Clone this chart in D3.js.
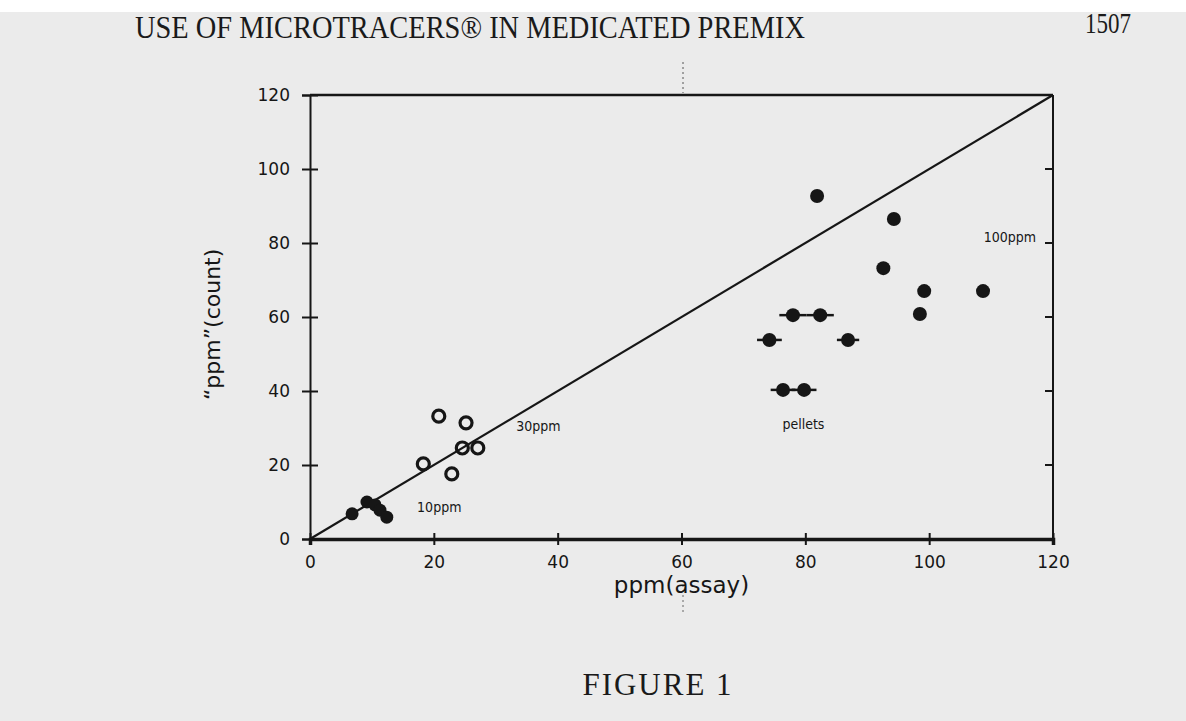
<!DOCTYPE html>
<html>
<head>
<meta charset="utf-8">
<script src="https://cdn.jsdelivr.net/npm/d3@7"></script>
<style>
  body { margin: 0; background: #ebebeb; }
  svg { display: block; }
</style>
</head>
<body>
<div id="chart"></div>
<script>
var svgWidth = 1186;
var svgHeight = 721;

// data
var xTicks = [0, 20, 40, 60, 80, 100, 120];
var yTicks = [0, 20, 40, 60, 80, 100, 120];

// 10ppm, filled dots near the origin
var ppm10X = [6.8, 9.2, 10.5, 11.3, 12.4];
var ppm10Y = [6.8, 10.0, 9.2, 7.8, 5.9];

// 30ppm, open circles
var ppm30X = [18.3, 20.8, 22.9, 24.6, 25.2, 27.1];
var ppm30Y = [20.3, 33.2, 17.6, 24.6, 31.4, 24.6];

// 100ppm pellets, filled dots, some with horizontal error bars
var ppm100X = [81.9, 94.3, 92.6, 99.2, 108.7, 98.5, 78.0, 82.4, 74.2, 86.9, 76.4, 79.8];
var ppm100Y = [92.7, 86.5, 73.2, 67.0, 67.0, 60.8, 60.5, 60.5, 53.8, 53.8, 40.3, 40.3];
var ppm100Err = [0, 0, 0, 0, 0, 0, 2.2, 2.2, 2.0, 1.8, 2.0, 2.0];

var labels = ["10ppm", "30ppm", "pellets", "100ppm"];

var margin = { top: 95, right: 133, bottom: 182, left: 310 };
var width = svgWidth - margin.left - margin.right;
var height = svgHeight - margin.top - margin.bottom;

var svg = d3.select("#chart")
  .append("svg")
  .attr("width", svgWidth)
  .attr("height", svgHeight);

svg.append("rect")
  .attr("width", svgWidth)
  .attr("height", svgHeight)
  .attr("fill", "#ebebeb");

// white strip at the very top of the scan
svg.append("rect")
  .attr("width", svgWidth)
  .attr("height", 12)
  .attr("fill", "#ffffff");

// page header
svg.append("text")
  .attr("x", 135)
  .attr("y", 38)
  .attr("font-family", "Liberation Serif, serif")
  .attr("font-size", "31px")
  .attr("fill", "#1a1a1a")
  .attr("textLength", 670)
  .attr("lengthAdjust", "spacingAndGlyphs")
  .text("USE OF MICROTRACERS\u00AE IN MEDICATED PREMIX");

svg.append("text")
  .attr("x", 1085)
  .attr("y", 33)
  .attr("font-family", "Liberation Serif, serif")
  .attr("font-size", "29px")
  .attr("fill", "#1a1a1a")
  .attr("textLength", 46)
  .attr("lengthAdjust", "spacingAndGlyphs")
  .text("1507");

// fold marks
svg.append("line")
  .attr("x1", 683).attr("x2", 683)
  .attr("y1", 62).attr("y2", 93)
  .attr("stroke", "#555")
  .attr("stroke-width", 1)
  .attr("stroke-dasharray", "2,3");

svg.append("line")
  .attr("x1", 683).attr("x2", 683)
  .attr("y1", 585).attr("y2", 612)
  .attr("stroke", "#666")
  .attr("stroke-width", 1)
  .attr("stroke-dasharray", "2,3");

var chartGroup = svg.append("g")
  .attr("transform", `translate(${margin.left}, ${margin.top})`);

var xLinearScale = d3.scaleLinear()
  .domain([0, 120])
  .range([0, width]);

var yLinearScale = d3.scaleLinear()
  .domain([0, 120])
  .range([height, 0]);

var ink = "#161616";

// frame: top and right
chartGroup.append("line")
  .attr("x1", 0).attr("x2", width)
  .attr("y1", 0).attr("y2", 0)
  .attr("stroke", ink).attr("stroke-width", 2.5);

chartGroup.append("line")
  .attr("x1", width).attr("x2", width)
  .attr("y1", 0).attr("y2", height)
  .attr("stroke", ink).attr("stroke-width", 2);

// right side inward ticks
chartGroup.selectAll(".rtick")
  .data(yTicks.slice(1, -1))
  .enter()
  .append("line")
  .attr("x1", width - 8).attr("x2", width)
  .attr("y1", d => yLinearScale(d)).attr("y2", d => yLinearScale(d))
  .attr("stroke", ink).attr("stroke-width", 2);

// bottom axis, ticks across the line
var bottomAxis = d3.axisBottom(xLinearScale)
  .tickValues(xTicks)
  .tickSize(6)
  .tickPadding(11);

var xAxis = chartGroup.append("g")
  .attr("transform", `translate(0, ${height})`)
  .call(bottomAxis);

xAxis.select(".domain").attr("stroke", ink).attr("stroke-width", 3.5);
xAxis.selectAll(".tick line")
  .attr("y1", -6)
  .attr("stroke", ink).attr("stroke-width", 2);
xAxis.selectAll(".tick text")
  .attr("font-family", "DejaVu Sans, sans-serif")
  .attr("font-size", "17px")
  .attr("fill", ink);

// left axis, ticks across the line
var leftAxis = d3.axisLeft(yLinearScale)
  .tickValues(yTicks)
  .tickSize(8)
  .tickPadding(12);

var yAxis = chartGroup.append("g")
  .call(leftAxis);

yAxis.select(".domain").attr("stroke", ink).attr("stroke-width", 2);
yAxis.selectAll(".tick line")
  .attr("x2", 8)
  .attr("x1", -8)
  .attr("stroke", ink).attr("stroke-width", 2);
yAxis.selectAll(".tick text")
  .attr("font-family", "DejaVu Sans, sans-serif")
  .attr("font-size", "17px")
  .attr("fill", ink);

// identity line
chartGroup.append("line")
  .attr("x1", xLinearScale(0)).attr("y1", yLinearScale(0))
  .attr("x2", xLinearScale(120)).attr("y2", yLinearScale(120))
  .attr("stroke", ink).attr("stroke-width", 2.2);

// 10ppm points
var data10 = ppm10X.map((x, i) => ({ x: x, y: ppm10Y[i] }));
chartGroup.selectAll(".p10")
  .data(data10)
  .enter()
  .append("circle")
  .attr("cx", d => xLinearScale(d.x))
  .attr("cy", d => yLinearScale(d.y))
  .attr("r", 6.5)
  .attr("fill", ink);

// 30ppm points
var data30 = ppm30X.map((x, i) => ({ x: x, y: ppm30Y[i] }));
chartGroup.selectAll(".p30")
  .data(data30)
  .enter()
  .append("circle")
  .attr("cx", d => xLinearScale(d.x))
  .attr("cy", d => yLinearScale(d.y))
  .attr("r", 6)
  .attr("fill", "none")
  .attr("stroke", ink)
  .attr("stroke-width", 3.2);

// 100ppm pellets
var data100 = ppm100X.map((x, i) => ({ x: x, y: ppm100Y[i], e: ppm100Err[i] }));
chartGroup.selectAll(".err")
  .data(data100.filter(d => d.e > 0))
  .enter()
  .append("line")
  .attr("x1", d => xLinearScale(d.x - d.e))
  .attr("x2", d => xLinearScale(d.x + d.e))
  .attr("y1", d => yLinearScale(d.y))
  .attr("y2", d => yLinearScale(d.y))
  .attr("stroke", ink).attr("stroke-width", 2.5);

chartGroup.selectAll(".p100")
  .data(data100)
  .enter()
  .append("circle")
  .attr("cx", d => xLinearScale(d.x))
  .attr("cy", d => yLinearScale(d.y))
  .attr("r", 7)
  .attr("fill", ink);

// group labels
var labelPos = [
  { x: 17.3, y: 8.5 },
  { x: 33.3, y: 30.5 },
  { x: 76.3, y: 31 },
  { x: 108.8, y: 81.5 }
];
chartGroup.selectAll(".grp")
  .data(labels)
  .enter()
  .append("text")
  .attr("x", (d, i) => xLinearScale(labelPos[i].x))
  .attr("y", (d, i) => yLinearScale(labelPos[i].y))
  .attr("dy", "0.35em")
  .attr("font-family", "DejaVu Sans Condensed, sans-serif")
  .attr("font-size", "14px")
  .attr("fill", ink)
  .text(d => d);

// axis titles
chartGroup.append("text")
  .attr("transform", `translate(${xLinearScale(60)}, ${height + 54})`)
  .attr("text-anchor", "middle")
  .attr("font-family", "DejaVu Sans, sans-serif")
  .attr("font-size", "23px")
  .attr("fill", ink)
  .text("ppm(assay)");

chartGroup.append("text")
  .attr("transform", "rotate(-90)")
  .attr("x", 0 - yLinearScale(58))
  .attr("y", 212 - margin.left)
  .attr("dy", "0.35em")
  .attr("text-anchor", "middle")
  .attr("font-family", "DejaVu Sans, sans-serif")
  .attr("font-size", "22px")
  .attr("fill", ink)
  .text("\u201Cppm\u201D(count)");

// figure caption
svg.append("text")
  .attr("x", 658)
  .attr("y", 695)
  .attr("text-anchor", "middle")
  .attr("font-family", "Liberation Serif, serif")
  .attr("font-size", "31px")
  .attr("letter-spacing", "2px")
  .attr("fill", "#1a1a1a")
  .text("FIGURE 1");
</script>
</body>
</html>
